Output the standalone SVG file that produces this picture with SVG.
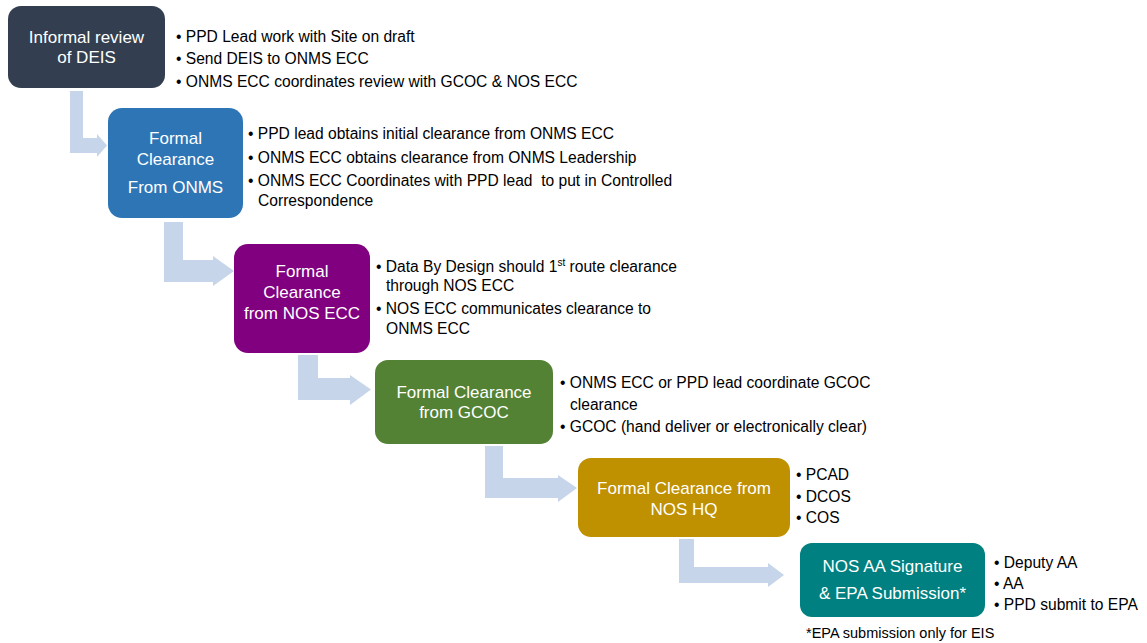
<svg xmlns="http://www.w3.org/2000/svg" width="1147" height="643" viewBox="0 0 1147 643">
<style>
.box{stroke:none}
.bt{font-family:"Liberation Sans",Arial,sans-serif;font-size:17px;fill:#ffffff;text-anchor:middle}
.tx{font-family:"Liberation Sans",Arial,sans-serif;font-size:15.6px;fill:#000000;white-space:pre}
.fn{font-family:"Liberation Sans",Arial,sans-serif;font-size:14.5px;fill:#000000}
.arr{fill:#c6d5ea;stroke:none}
</style>
<rect width="1147" height="643" fill="#ffffff"/>
<g id="connectors">
<path class="arr" d="M70,91 H83 V138 H97 V134 L107,145.5 L97,157 V153 H70 Z"/>
<path class="arr" d="M164,222 H183 V260 H213 V256 L234,271 L213,286 V282 H164 Z"/>
<path class="arr" d="M298,355 H318 V378 H350 V375 L371,389.5 L350,405 V400 H298 Z"/>
<path class="arr" d="M485,446 H503 V478 H558 V475 L577,488 L558,502 V498 H485 Z"/>
<path class="arr" d="M679,539 H694 V567 H768 V563 L784,575 L768,587 V583 H679 Z"/>
</g>
<g id="n1">
<rect class="box" x="8" y="6" width="157" height="82" rx="13" fill="#333f50"/>
<text class="bt" x="86.5" y="43">Informal review</text>
<text class="bt" x="86.5" y="63">of DEIS</text>
<text class="tx" x="176" y="42">• PPD Lead work with Site on draft</text>
<text class="tx" x="176" y="64">• Send DEIS to ONMS ECC</text>
<text class="tx" x="176" y="87">• ONMS ECC coordinates review with GCOC &amp; NOS ECC</text>
</g>
<g id="n2">
<rect class="box" x="108" y="108" width="135" height="110" rx="14" fill="#2e75b6"/>
<text class="bt" x="175.5" y="144">Formal</text>
<text class="bt" x="175.5" y="165">Clearance</text>
<text class="bt" x="175.5" y="193">From ONMS</text>
<text class="tx" x="248" y="139">• PPD lead obtains initial clearance from ONMS ECC</text>
<text class="tx" x="248" y="163">• ONMS ECC obtains clearance from ONMS Leadership</text>
<text class="tx" x="248" y="186">• ONMS ECC Coordinates with PPD lead  to put in Controlled</text>
<text class="tx" x="258" y="206">Correspondence</text>
</g>
<g id="n3">
<rect class="box" x="234" y="244" width="136" height="109" rx="14" fill="#800080"/>
<text class="bt" x="302" y="277">Formal</text>
<text class="bt" x="302" y="298">Clearance</text>
<text class="bt" x="302" y="319">from NOS ECC</text>
<text class="tx" x="376" y="272">• Data By Design should 1<tspan font-size="10" dy="-6">st</tspan><tspan dy="6"> route clearance</tspan></text>
<text class="tx" x="386" y="291">through NOS ECC</text>
<text class="tx" x="376" y="314">• NOS ECC communicates clearance to</text>
<text class="tx" x="386" y="334">ONMS ECC</text>
</g>
<g id="n4">
<rect class="box" x="375" y="360" width="178" height="84" rx="13" fill="#548235"/>
<text class="bt" x="464" y="398">Formal Clearance</text>
<text class="bt" x="464" y="418">from GCOC</text>
<text class="tx" x="560" y="388">• ONMS ECC or PPD lead coordinate GCOC</text>
<text class="tx" x="570" y="410">clearance</text>
<text class="tx" x="560" y="432">• GCOC (hand deliver or electronically clear)</text>
</g>
<g id="n5">
<rect class="box" x="578" y="458" width="212" height="79" rx="13" fill="#bf9000"/>
<text class="bt" x="684" y="494">Formal Clearance from</text>
<text class="bt" x="684" y="515">NOS HQ</text>
<text class="tx" x="796" y="480">• PCAD</text>
<text class="tx" x="796" y="502">• DCOS</text>
<text class="tx" x="796" y="523">• COS</text>
</g>
<g id="n6">
<rect class="box" x="800" y="543" width="185" height="74" rx="12" fill="#008080"/>
<text class="bt" x="892.5" y="572">NOS AA Signature</text>
<text class="bt" x="892.5" y="599">&amp; EPA Submission*</text>
<text class="tx" x="994" y="568">• Deputy AA</text>
<text class="tx" x="994" y="589">• AA</text>
<text class="tx" x="994" y="610">• PPD submit to EPA</text>
<text class="fn" x="806" y="638">*EPA submission only for EIS</text>
</g>
</svg>
